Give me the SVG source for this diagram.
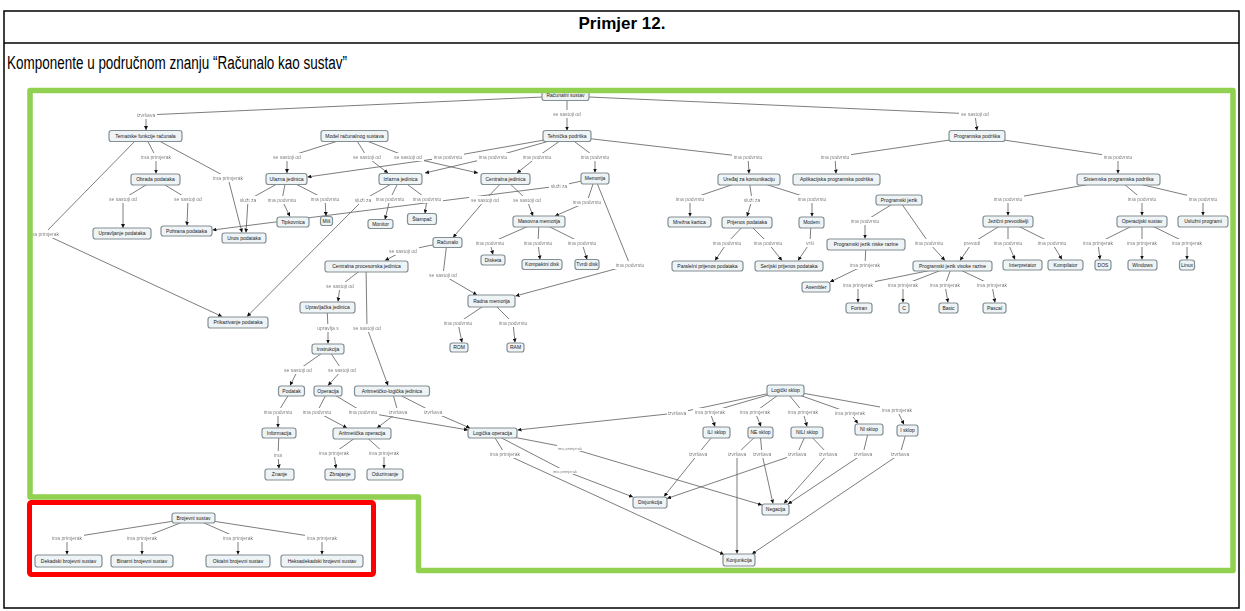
<svg xmlns="http://www.w3.org/2000/svg" width="1245" height="611" viewBox="0 0 1245 611">
<style>
.nd rect{fill:#eef3f5;stroke:#848f94;stroke-width:1.2}
.nd text{font-family:"Liberation Sans",Arial,sans-serif;font-size:5px;fill:#1a1a1a;text-anchor:middle}
.cn path{fill:none;stroke:#666;stroke-width:0.85;marker-end:url(#ah)}
.lb text{font-family:"Liberation Sans",Arial,sans-serif;font-size:5px;fill:#222;text-anchor:middle;filter:url(#lbg)}
.hd{font-family:"Liberation Sans",Arial,sans-serif;fill:#000}
</style>
<defs>
<marker id="ah" viewBox="0 0 6 6" refX="6" refY="3" markerWidth="4" markerHeight="4" orient="auto" markerUnits="userSpaceOnUse">
<path d="M0,0 L6,3 L0,6 z" fill="#111"/>
</marker>
<filter id="lbg" x="-0.04" y="-0.1" width="1.08" height="1.2">
<feFlood flood-color="#fff"/>
<feComposite in="SourceGraphic"/>
</filter>
</defs>
<rect width="1245" height="611" fill="#fff"/>

<!-- table frame and heading -->
<g id="table" fill="none" stroke="#000" stroke-width="1.5">
<rect x="4" y="11" width="1235" height="597"/>
<line x1="4" y1="43" x2="1239" y2="43"/>
</g>
<text class="hd" x="622" y="29" font-size="17" font-weight="bold" text-anchor="middle">Primjer 12.</text>
<text class="hd" x="7" y="69" font-size="18" textLength="340" lengthAdjust="spacingAndGlyphs">Komponente u područnom znanju “Računalo kao sustav”</text>

<g id="connectors">
<g class="cn">
<path d="M565,96 L146,115 L146,130"/>
<path d="M567,96 L567,114 L567,130.5"/>
<path d="M566,96 L975,114 L977,130.5"/>
<path d="M145,136 L156,157 L156,173.5"/>
<path d="M150,136 L228,178 L242,232.5"/>
<path d="M140,136 L44,234 L222,316.5"/>
<path d="M155,179.5 L123,199 L123,228"/>
<path d="M156,179.5 L188,199 L187,225.5"/>
<path d="M354,136 L287,157 L287,173"/>
<path d="M354,136 L367,157 L388,173"/>
<path d="M354,136 L408,157 L478,173"/>
<path d="M567,136 L448,157 L307.5,177"/>
<path d="M567,136 L493,157 L425,173"/>
<path d="M567,136 L537,157 L517,173"/>
<path d="M567,136 L595,157 L595,172.5"/>
<path d="M567,136 L748,157 L749,173.5"/>
<path d="M977,136 L835,157 L836,173.5"/>
<path d="M977,136 L1118,157 L1118,173.5"/>
<path d="M286,179 L248,200 L246,232.5"/>
<path d="M286,179 L282,200 L290,216.5"/>
<path d="M286,179 L325,199 L326,216"/>
<path d="M400,179 L363,200 L247,316.5"/>
<path d="M400,179 L390,199 L385,219.5"/>
<path d="M400,179 L427,199 L425,213.5"/>
<path d="M505,179 L485,200 L453,237.5"/>
<path d="M505,179 L527,200 L533,216"/>
<path d="M595,178 L587,202 L555,216"/>
<path d="M595,178 L559,186 L212.5,230"/>
<path d="M595,178 L630,265 L515.5,296"/>
<path d="M539,221.5 L490,243 L493,254.5"/>
<path d="M539,221.5 L538,243 L540,259.5"/>
<path d="M539,221.5 L582,243 L587,259.5"/>
<path d="M447,242 L403,251 L385,260.5"/>
<path d="M447,242 L443,275 L477,295"/>
<path d="M366,266 L340,286 L338,301.5"/>
<path d="M366,266 L367,328 L388,385.5"/>
<path d="M327,307 L328,328 L328,343.5"/>
<path d="M328,349 L298,370 L290,385.5"/>
<path d="M328,349 L342,370 L328,385.5"/>
<path d="M491,301 L458,323 L462,342.5"/>
<path d="M491,301 L513,323 L515,342.5"/>
<path d="M291,391 L278,412 L278,427.5"/>
<path d="M328,391 L317,412 L347,428"/>
<path d="M328,391 L363,412 L468,430"/>
<path d="M392,391 L398,412 L377,428"/>
<path d="M392,391 L433,412 L470,428"/>
<path d="M279,433 L278,455 L279,468.5"/>
<path d="M362,433 L334,453 L336,468.5"/>
<path d="M362,433 L384,453 L384,468.5"/>
<path d="M785,390 L677,413 L517.5,430"/>
<path d="M785,390 L710,412 L715,426.5"/>
<path d="M785,390 L755,412 L761,426.5"/>
<path d="M785,390 L803,412 L807,426.5"/>
<path d="M785,390 L850,413 L858,423.5"/>
<path d="M785,390 L897,410 L904,424.5"/>
<path d="M716,432 L698,454 L664,496.5"/>
<path d="M760,432 L737,454 L737,553.5"/>
<path d="M760,432 L762,454 L773,503.5"/>
<path d="M807,432 L797,454 L667,498.5"/>
<path d="M807,432 L828,454 L784,503.5"/>
<path d="M869,429 L863,454 L788,504"/>
<path d="M907,430 L900,454 L752,554"/>
<path d="M492,433 L505,454 L724,554.5"/>
<path d="M492,433 L570,448 L762,505"/>
<path d="M492,433 L565,471 L633,497"/>
<path d="M1118,179 L1008,199 L1008,215.5"/>
<path d="M1118,179 L1142,199 L1142,215.5"/>
<path d="M1118,179 L1203,199 L1203,215.5"/>
<path d="M749,179 L690,199 L690,216.5"/>
<path d="M749,179 L752,200 L747,216.5"/>
<path d="M749,179 L812,199 L812,216.5"/>
<path d="M747,222 L727,243 L715,260.5"/>
<path d="M747,222 L768,243 L782,260.5"/>
<path d="M811,222 L810,243 L798,260.5"/>
<path d="M899,200 L865,221 L865,238.5"/>
<path d="M899,200 L929,243 L945,260.5"/>
<path d="M866,244 L865,265 L830,282"/>
<path d="M1008,221 L972,243 L960,260.5"/>
<path d="M1008,221 L1008,243 L1015,259.5"/>
<path d="M1008,221 L1052,243 L1062,259.5"/>
<path d="M1142,221 L1098,243 L1100,259.5"/>
<path d="M1142,221 L1142,243 L1142,259.5"/>
<path d="M1142,221 L1187,243 L1187,259.5"/>
<path d="M952,266 L858,285 L858,302.5"/>
<path d="M952,266 L903,285 L903,302.5"/>
<path d="M952,266 L945,285 L948,302.5"/>
<path d="M952,266 L992,285 L995,302.5"/>
<path d="M193,518 L67,538 L67,554.5"/>
<path d="M193,518 L142,538 L142,554.5"/>
<path d="M193,518 L238,538 L238,554.5"/>
<path d="M193,518 L322,538 L322,554.5"/>
</g>
<g class="lb">
<text x="146" y="116.8">izvršava</text>
<text x="567" y="115.8">se sastoji od</text>
<text x="975" y="115.8">se sastoji od</text>
<text x="156" y="158.8">ima primjerak</text>
<text x="228" y="179.8">ima primjerak</text>
<text x="44" y="235.8">ima primjerak</text>
<text x="123" y="200.8">se sastoji od</text>
<text x="188" y="200.8">se sastoji od</text>
<text x="287" y="158.8">se sastoji od</text>
<text x="367" y="158.8">se sastoji od</text>
<text x="408" y="158.8">se sastoji od</text>
<text x="448" y="158.8">ima podvrstu</text>
<text x="493" y="158.8">ima podvrstu</text>
<text x="537" y="158.8">ima podvrstu</text>
<text x="595" y="158.8">ima podvrstu</text>
<text x="748" y="158.8">ima podvrstu</text>
<text x="835" y="158.8">ima podvrstu</text>
<text x="1118" y="158.8">ima podvrstu</text>
<text x="248" y="201.8">služi za</text>
<text x="282" y="201.8">ima podvrstu</text>
<text x="325" y="200.8">ima podvrstu</text>
<text x="363" y="201.8">služi za</text>
<text x="390" y="200.8">ima podvrstu</text>
<text x="427" y="200.8">ima podvrstu</text>
<text x="485" y="201.8">se sastoji od</text>
<text x="527" y="201.8">se sastoji od</text>
<text x="587" y="203.8">ima podvrstu</text>
<text x="559" y="187.8">služi za</text>
<text x="630" y="266.8">ima podvrstu</text>
<text x="490" y="244.8">ima podvrstu</text>
<text x="538" y="244.8">ima podvrstu</text>
<text x="582" y="244.8">ima podvrstu</text>
<text x="403" y="252.8">se sastoji od</text>
<text x="443" y="276.8">se sastoji od</text>
<text x="340" y="287.8">se sastoji od</text>
<text x="367" y="329.8">se sastoji od</text>
<text x="328" y="329.8">upravlja s</text>
<text x="298" y="371.8">se sastoji od</text>
<text x="342" y="371.8">se sastoji od</text>
<text x="458" y="324.8">ima podvrstu</text>
<text x="513" y="324.8">ima podvrstu</text>
<text x="278" y="413.8">ima podvrstu</text>
<text x="317" y="413.8">ima podvrstu</text>
<text x="363" y="413.8">ima podvrstu</text>
<text x="398" y="413.8">izvršava</text>
<text x="433" y="413.8">izvršava</text>
<text x="278" y="456.8">ima</text>
<text x="334" y="454.8">ima primjerak</text>
<text x="384" y="454.8">ima primjerak</text>
<text x="677" y="414.8">izvršava</text>
<text x="710" y="413.8">ima primjerak</text>
<text x="755" y="413.8">ima primjerak</text>
<text x="803" y="413.8">ima primjerak</text>
<text x="850" y="414.8">ima primjerak</text>
<text x="897" y="411.8">ima primjerak</text>
<text x="698" y="455.8">izvršava</text>
<text x="737" y="455.8">izvršava</text>
<text x="762" y="455.8">izvršava</text>
<text x="797" y="455.8">izvršava</text>
<text x="828" y="455.8">izvršava</text>
<text x="863" y="455.8">izvršava</text>
<text x="900" y="455.8">izvršava</text>
<text x="505" y="455.8">ima primjerak</text>
<text x="570" y="449.5" style="font-size:4px">ima primjerak</text>
<text x="565" y="472.5" style="font-size:4px">ima primjerak</text>
<text x="1008" y="200.8">ima podvrstu</text>
<text x="1142" y="200.8">ima podvrstu</text>
<text x="1203" y="200.8">ima podvrstu</text>
<text x="690" y="200.8">ima podvrstu</text>
<text x="752" y="201.8">služi za</text>
<text x="812" y="200.8">ima podvrstu</text>
<text x="727" y="244.8">ima podvrstu</text>
<text x="768" y="244.8">ima podvrstu</text>
<text x="810" y="244.8">vrši</text>
<text x="865" y="222.8">ima podvrstu</text>
<text x="929" y="244.8">ima podvrstu</text>
<text x="865" y="266.8">ima primjerak</text>
<text x="972" y="244.8">prevodi</text>
<text x="1008" y="244.8">ima podvrstu</text>
<text x="1052" y="244.8">ima podvrstu</text>
<text x="1098" y="244.8">ima primjerak</text>
<text x="1142" y="244.8">ima primjerak</text>
<text x="1187" y="244.8">ima primjerak</text>
<text x="858" y="286.8">ima primjerak</text>
<text x="903" y="286.8">ima primjerak</text>
<text x="945" y="286.8">ima primjerak</text>
<text x="992" y="286.8">ima primjerak</text>
<text x="67" y="539.8">ima primjerak</text>
<text x="142" y="539.8">ima primjerak</text>
<text x="238" y="539.8">ima primjerak</text>
<text x="322" y="539.8">ima primjerak</text>
</g>
</g>

<g id="nodes">
<g id="n-racunalni-sustav" class="nd"><rect x="542" y="90.5" width="47" height="10" rx="2.5"/><text x="565.5" y="97.3">Računalni sustav</text></g>
<g id="n-tematske-funkcije" class="nd"><rect x="109" y="130.5" width="73" height="11" rx="2.5"/><text x="145.5" y="137.8">Tematske funkcije računala</text></g>
<g id="n-model" class="nd"><rect x="321" y="130.5" width="67" height="11" rx="2.5"/><text x="354.5" y="137.8">Model računalnog sustava</text></g>
<g id="n-tehnicka" class="nd"><rect x="543" y="130.5" width="48" height="11" rx="2.5"/><text x="567" y="137.8">Tehnička podrška</text></g>
<g id="n-programska" class="nd"><rect x="949" y="130.5" width="56" height="11" rx="2.5"/><text x="977" y="137.8">Programska podrška</text></g>
<g id="n-obrada" class="nd"><rect x="131" y="174" width="49" height="11" rx="2.5"/><text x="155.5" y="181.3">Obrada podataka</text></g>
<g id="n-ulazna" class="nd"><rect x="266" y="173.5" width="41" height="11" rx="2.5"/><text x="286.5" y="180.8">Ulazna jedinica</text></g>
<g id="n-izlazna" class="nd"><rect x="379" y="173.5" width="43" height="11" rx="2.5"/><text x="400.5" y="180.8">Izlazna jedinica</text></g>
<g id="n-centralna" class="nd"><rect x="481" y="173.5" width="49" height="11" rx="2.5"/><text x="505.5" y="180.8">Centralna jedinica</text></g>
<g id="n-memorija" class="nd"><rect x="581" y="173" width="28" height="11" rx="2.5"/><text x="595" y="180.3">Memorija</text></g>
<g id="n-uredaj" class="nd"><rect x="718" y="174" width="62" height="11" rx="2.5"/><text x="749" y="181.3">Uređaj za komunikaciju</text></g>
<g id="n-aplikacijska" class="nd"><rect x="793" y="174" width="87" height="11" rx="2.5"/><text x="836.5" y="181.3">Aplikacijska programska podrška</text></g>
<g id="n-sistemska" class="nd"><rect x="1077" y="174" width="83" height="11" rx="2.5"/><text x="1118.5" y="181.3">Sistemska programska podrška</text></g>
<g id="n-upravljanje" class="nd"><rect x="93" y="228" width="58" height="11" rx="2.5"/><text x="122" y="235.3">Upravljanje podataka</text></g>
<g id="n-pohrana" class="nd"><rect x="161" y="226" width="51" height="10" rx="2.5"/><text x="186.5" y="232.8">Pohrana podataka</text></g>
<g id="n-unos" class="nd"><rect x="222" y="233" width="44" height="10" rx="2.5"/><text x="244" y="239.8">Unos podataka</text></g>
<g id="n-tipkovnica" class="nd"><rect x="277" y="217" width="32" height="10" rx="2.5"/><text x="293" y="223.8">Tipkovnica</text></g>
<g id="n-mis" class="nd"><rect x="320.5" y="216.5" width="12" height="9" rx="2.5"/><text x="326.5" y="222.8">Miš</text></g>
<g id="n-monitor" class="nd"><rect x="368" y="219.5" width="25" height="9" rx="2.5"/><text x="380.5" y="225.8">Monitor</text></g>
<g id="n-stampac" class="nd"><rect x="407.5" y="213.5" width="29" height="11" rx="2.5"/><text x="422" y="220.8">Štampač</text></g>
<g id="n-masovna" class="nd"><rect x="513" y="216" width="52" height="11" rx="2.5"/><text x="539" y="223.3">Masovna memorija</text></g>
<g id="n-racunalo" class="nd"><rect x="433" y="237.5" width="29" height="10" rx="2.5"/><text x="447.5" y="244.3">Računalo</text></g>
<g id="n-disketa" class="nd"><rect x="481" y="255" width="24" height="10" rx="2.5"/><text x="493" y="261.8">Disketa</text></g>
<g id="n-kompaktni" class="nd"><rect x="522" y="259.5" width="40" height="10" rx="2.5"/><text x="542" y="266.3">Kompaktni disk</text></g>
<g id="n-tvrdi" class="nd"><rect x="575" y="259.5" width="24" height="10" rx="2.5"/><text x="587" y="266.3">Tvrdi disk</text></g>
<g id="n-mrezna" class="nd"><rect x="668" y="217" width="43" height="10" rx="2.5"/><text x="689.5" y="223.8">Mrežna kartica</text></g>
<g id="n-prijenos" class="nd"><rect x="722" y="217" width="50" height="11" rx="2.5"/><text x="747" y="224.3">Prijenos podataka</text></g>
<g id="n-modem" class="nd"><rect x="799" y="217" width="25" height="11" rx="2.5"/><text x="811.5" y="224.3">Modem</text></g>
<g id="n-paralelni" class="nd"><rect x="672" y="261" width="71" height="10" rx="2.5"/><text x="707.5" y="267.8">Paralelni prijenos podataka</text></g>
<g id="n-serijski" class="nd"><rect x="755" y="261" width="68" height="10" rx="2.5"/><text x="789" y="267.8">Serijski prijenos podataka</text></g>
<g id="n-programski-jezik" class="nd"><rect x="876" y="195" width="46" height="10" rx="2.5"/><text x="899" y="201.8">Programski jezik</text></g>
<g id="n-niske-razine" class="nd"><rect x="827" y="239" width="78" height="11" rx="2.5"/><text x="866" y="246.3">Programski jezik niske razine</text></g>
<g id="n-visoke-razine" class="nd"><rect x="913" y="261" width="79" height="10" rx="2.5"/><text x="952.5" y="267.8">Programski jezik visoke razine</text></g>
<g id="n-asembler" class="nd"><rect x="802" y="282" width="28" height="10" rx="2.5"/><text x="816" y="288.8">Asembler</text></g>
<g id="n-fortran" class="nd"><rect x="846" y="303" width="26" height="10" rx="2.5"/><text x="859" y="309.8">Fortran</text></g>
<g id="n-c" class="nd"><rect x="899" y="303" width="10" height="10" rx="2.5"/><text x="904" y="309.8">C</text></g>
<g id="n-basic" class="nd"><rect x="939" y="303" width="19" height="10" rx="2.5"/><text x="948.5" y="309.8">Basic</text></g>
<g id="n-pascal" class="nd"><rect x="983" y="303" width="23" height="10" rx="2.5"/><text x="994.5" y="309.8">Pascal</text></g>
<g id="n-jezicni" class="nd"><rect x="983" y="216" width="50" height="11" rx="2.5"/><text x="1008" y="223.3">Jezični prevoditelji</text></g>
<g id="n-operacijski" class="nd"><rect x="1117" y="216" width="50" height="11" rx="2.5"/><text x="1142" y="223.3">Operacijski sustav</text></g>
<g id="n-usluzni" class="nd"><rect x="1178" y="216" width="50" height="11" rx="2.5"/><text x="1203" y="223.3">Uslužni programi</text></g>
<g id="n-interpretator" class="nd"><rect x="1003" y="260" width="39" height="10" rx="2.5"/><text x="1022.5" y="266.8">Interpretator</text></g>
<g id="n-kompilator" class="nd"><rect x="1048" y="260" width="35" height="10" rx="2.5"/><text x="1065.5" y="266.8">Kompilator</text></g>
<g id="n-dos" class="nd"><rect x="1095" y="260" width="16" height="10" rx="2.5"/><text x="1103" y="266.8">DOS</text></g>
<g id="n-windows" class="nd"><rect x="1128" y="260" width="29" height="10" rx="2.5"/><text x="1142.5" y="266.8">Windows</text></g>
<g id="n-linux" class="nd"><rect x="1179.5" y="260" width="15" height="10" rx="2.5"/><text x="1187" y="266.8">Linux</text></g>
<g id="n-cpj" class="nd"><rect x="325" y="261" width="83" height="11" rx="2.5"/><text x="366.5" y="268.3">Centralna procesorska jedinica</text></g>
<g id="n-prikazivanje" class="nd"><rect x="208" y="317" width="60" height="11" rx="2.5"/><text x="238" y="324.3">Prikazivanje podataka</text></g>
<g id="n-radna" class="nd"><rect x="468" y="295" width="47" height="12" rx="2.5"/><text x="491.5" y="302.8">Radna memorija</text></g>
<g id="n-rom" class="nd"><rect x="450" y="343" width="18" height="9" rx="2.5"/><text x="459" y="349.3">ROM</text></g>
<g id="n-ram" class="nd"><rect x="507" y="343" width="17" height="9" rx="2.5"/><text x="515.5" y="349.3">RAM</text></g>
<g id="n-upravljacka" class="nd"><rect x="300" y="302" width="55" height="11" rx="2.5"/><text x="327.5" y="309.3">Upravljačka jedinica</text></g>
<g id="n-instrukcija" class="nd"><rect x="312" y="344" width="32" height="10" rx="2.5"/><text x="328" y="350.8">Instrukcija</text></g>
<g id="n-podatak" class="nd"><rect x="278.5" y="386" width="26" height="10" rx="2.5"/><text x="291.5" y="392.8">Podatak</text></g>
<g id="n-operacija" class="nd"><rect x="314" y="386" width="28" height="10" rx="2.5"/><text x="328" y="392.8">Operacija</text></g>
<g id="n-alu" class="nd"><rect x="354.5" y="386" width="75" height="10" rx="2.5"/><text x="392" y="392.8">Aritmetičko-logička jedinica</text></g>
<g id="n-informacija" class="nd"><rect x="262" y="428" width="34" height="10" rx="2.5"/><text x="279" y="434.8">Informacija</text></g>
<g id="n-aritmeticka" class="nd"><rect x="333" y="428" width="58" height="11" rx="2.5"/><text x="362" y="435.3">Aritmetička operacija</text></g>
<g id="n-logicka" class="nd"><rect x="468" y="428" width="49" height="10" rx="2.5"/><text x="492.5" y="434.8">Logička operacija</text></g>
<g id="n-znanje" class="nd"><rect x="265" y="469" width="29" height="11" rx="2.5"/><text x="279.5" y="476.3">Znanje</text></g>
<g id="n-zbrajanje" class="nd"><rect x="325" y="469" width="30" height="11" rx="2.5"/><text x="340" y="476.3">Zbrajanje</text></g>
<g id="n-oduzimanje" class="nd"><rect x="367" y="469" width="36" height="11" rx="2.5"/><text x="385" y="476.3">Oduzimanje</text></g>
<g id="n-logicki-sklop" class="nd"><rect x="767" y="385" width="37" height="11" rx="2.5"/><text x="785.5" y="392.3">Logički sklop</text></g>
<g id="n-ili" class="nd"><rect x="703" y="427" width="27" height="11" rx="2.5"/><text x="716.5" y="434.3">ILI sklop</text></g>
<g id="n-ne" class="nd"><rect x="748" y="427" width="25" height="11" rx="2.5"/><text x="760.5" y="434.3">NE sklop</text></g>
<g id="n-nili" class="nd"><rect x="791" y="427" width="32" height="11" rx="2.5"/><text x="807" y="434.3">NILI sklop</text></g>
<g id="n-ni" class="nd"><rect x="855" y="424" width="28" height="11" rx="2.5"/><text x="869" y="431.3">NI sklop</text></g>
<g id="n-i" class="nd"><rect x="897" y="425" width="21" height="11" rx="2.5"/><text x="907.5" y="432.3">I sklop</text></g>
<g id="n-disjunkcija" class="nd"><rect x="633" y="497" width="34" height="11" rx="2.5"/><text x="650" y="504.3">Disjunkcija</text></g>
<g id="n-negacija" class="nd"><rect x="762" y="504" width="27" height="11" rx="2.5"/><text x="775.5" y="511.3">Negacija</text></g>
<g id="n-konjunkcija" class="nd"><rect x="723" y="554" width="32" height="12" rx="2.5"/><text x="739" y="561.8">Konjunkcija</text></g>
<g id="n-brojevni" class="nd"><rect x="172" y="513" width="43" height="10" rx="2.5"/><text x="193.5" y="519.8">Brojevni sustav</text></g>
<g id="n-dekadski" class="nd"><rect x="35" y="555" width="67" height="12" rx="2.5"/><text x="68.5" y="562.8">Dekadski brojevni sustav</text></g>
<g id="n-binarni" class="nd"><rect x="111" y="555" width="62" height="12" rx="2.5"/><text x="142" y="562.8">Binarni brojevni sustav</text></g>
<g id="n-oktalni" class="nd"><rect x="206" y="555" width="64" height="12" rx="2.5"/><text x="238" y="562.8">Oktalni brojevni sustav</text></g>
<g id="n-heksa" class="nd"><rect x="281" y="555" width="82" height="12" rx="2.5"/><text x="322" y="562.8">Heksadekadski brojevni sustav</text></g>
</g>

<!-- highlight frames -->
<path id="frame-green" d="M30,90.5 H1233 V570.5 H418.5 V497 H30 Z" fill="none" stroke="#92d050" stroke-width="5.5" stroke-linejoin="round"/>
<rect id="frame-red" x="29.5" y="502.5" width="344" height="72" rx="2" fill="none" stroke="#ff0000" stroke-width="5"/>
</svg>
